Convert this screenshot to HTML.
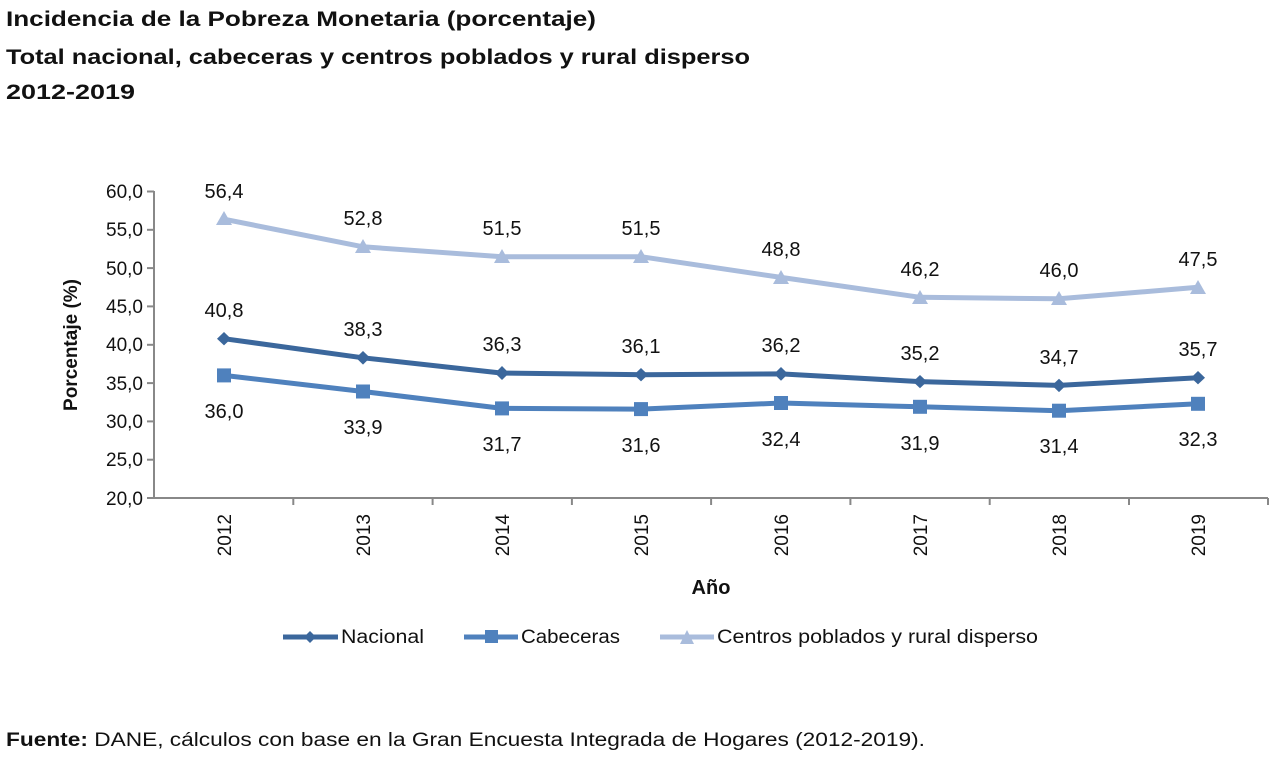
<!DOCTYPE html>
<html><head><meta charset="utf-8"><style>
body{margin:0;background:#fff;width:1283px;height:761px;overflow:hidden;font-family:"Liberation Sans","DejaVu Sans",sans-serif}
</style></head><body>
<svg width="1283" height="761" xmlns="http://www.w3.org/2000/svg" font-family="Liberation Sans, DejaVu Sans, sans-serif">
<text x="6" y="26" font-size="21" font-weight="bold" fill="#111" textLength="590" lengthAdjust="spacingAndGlyphs">Incidencia de la Pobreza Monetaria (porcentaje)</text>
<text x="6" y="64" font-size="21" font-weight="bold" fill="#111" textLength="744" lengthAdjust="spacingAndGlyphs">Total nacional, cabeceras y centros poblados y rural disperso</text>
<text x="6" y="99" font-size="21" font-weight="bold" fill="#111" textLength="129" lengthAdjust="spacingAndGlyphs">2012-2019</text>
<g stroke="#888" stroke-width="2">
<line x1="154" y1="191" x2="154" y2="499"/>
<line x1="153" y1="498" x2="1268" y2="498"/>
<line x1="147" y1="191.5" x2="154" y2="191.5"/><line x1="147" y1="229.8" x2="154" y2="229.8"/>
<line x1="147" y1="268.1" x2="154" y2="268.1"/><line x1="147" y1="306.4" x2="154" y2="306.4"/>
<line x1="147" y1="344.8" x2="154" y2="344.8"/><line x1="147" y1="383.1" x2="154" y2="383.1"/>
<line x1="147" y1="421.4" x2="154" y2="421.4"/><line x1="147" y1="459.7" x2="154" y2="459.7"/>
<line x1="147" y1="498" x2="154" y2="498"/>
<line x1="293.3" y1="498" x2="293.3" y2="505"/><line x1="432.6" y1="498" x2="432.6" y2="505"/>
<line x1="571.9" y1="498" x2="571.9" y2="505"/><line x1="711.1" y1="498" x2="711.1" y2="505"/>
<line x1="850.4" y1="498" x2="850.4" y2="505"/><line x1="989.7" y1="498" x2="989.7" y2="505"/>
<line x1="1129" y1="498" x2="1129" y2="505"/><line x1="1268" y1="498" x2="1268" y2="505"/>
</g>
<g font-size="19" fill="#111" text-anchor="end">
<text x="143" y="198">60,0</text><text x="143" y="236">55,0</text><text x="143" y="275">50,0</text>
<text x="143" y="313">45,0</text><text x="143" y="351">40,0</text><text x="143" y="390">35,0</text>
<text x="143" y="428">30,0</text><text x="143" y="466">25,0</text><text x="143" y="505">20,0</text>
</g>
<g font-size="19" fill="#111" text-anchor="end">
<text transform="translate(231,514) rotate(-90)">2012</text>
<text transform="translate(370,514) rotate(-90)">2013</text>
<text transform="translate(509,514) rotate(-90)">2014</text>
<text transform="translate(648,514) rotate(-90)">2015</text>
<text transform="translate(788,514) rotate(-90)">2016</text>
<text transform="translate(927,514) rotate(-90)">2017</text>
<text transform="translate(1066,514) rotate(-90)">2018</text>
<text transform="translate(1205,514) rotate(-90)">2019</text>
</g>
<text transform="translate(77,345) rotate(-90)" font-size="19" font-weight="bold" text-anchor="middle" fill="#111">Porcentaje (%)</text>
<text x="711" y="594" font-size="20" font-weight="bold" text-anchor="middle" fill="#111">Año</text>
<polyline fill="none" stroke="#a9bcdc" stroke-width="5" stroke-linejoin="round" points="224,219.2 363,246.8 502,256.7 641,256.7 781,277.4 920,297.3 1059,298.8 1198,287.3"/>
<g fill="#a9bcdc">
<polygon points="224,211 216,225 232,225"/><polygon points="363,239 355,253 371,253"/><polygon points="502,249 494,263 510,263"/><polygon points="641,249 633,263 649,263"/><polygon points="781,270 773,284 789,284"/><polygon points="920,290 912,304 928,304"/><polygon points="1059,291 1051,305 1067,305"/><polygon points="1198,280 1190,294 1206,294"/>
</g>
<polyline fill="none" stroke="#3b679c" stroke-width="5" stroke-linejoin="round" points="224,338.7 363,357.8 502,373.1 641,374.7 781,373.9 920,381.6 1059,385.4 1198,377.7"/>
<g fill="#3b679c">
<polygon points="224,332 231,338.7 224,345.4 217,338.7"/><polygon points="363,351 370,357.8 363,364.6 356,357.8"/><polygon points="502,366 509,373.1 502,380 495,373.1"/><polygon points="641,368 648,374.7 641,381.4 634,374.7"/><polygon points="781,367 788,373.9 781,380.8 774,373.9"/><polygon points="920,375 927,381.6 920,388.3 913,381.6"/><polygon points="1059,378.7 1066,385.4 1059,392.1 1052,385.4"/><polygon points="1198,371 1205,377.7 1198,384.4 1191,377.7"/>
</g>
<polyline fill="none" stroke="#4f81bd" stroke-width="5" stroke-linejoin="round" points="224,375.4 363,391.5 502,408.4 641,409.1 781,403 920,406.8 1059,410.7 1198,403.8"/>
<g fill="#4f81bd">
<rect x="217" y="368.4" width="14" height="14"/><rect x="356" y="384.5" width="14" height="14"/><rect x="495" y="401.4" width="14" height="14"/><rect x="634" y="402.1" width="14" height="14"/><rect x="774" y="396" width="14" height="14"/><rect x="913" y="399.8" width="14" height="14"/><rect x="1052" y="403.7" width="14" height="14"/><rect x="1191" y="396.8" width="14" height="14"/>
</g>
<g font-size="20" fill="#111" text-anchor="middle">
<text x="224" y="198">56,4</text><text x="363" y="225">52,8</text><text x="502" y="235">51,5</text><text x="641" y="235">51,5</text><text x="781" y="256">48,8</text><text x="920" y="276">46,2</text><text x="1059" y="277">46,0</text><text x="1198" y="266">47,5</text>
<text x="224" y="317">40,8</text><text x="363" y="336">38,3</text><text x="502" y="351">36,3</text><text x="641" y="353">36,1</text><text x="781" y="352">36,2</text><text x="920" y="360">35,2</text><text x="1059" y="364">34,7</text><text x="1198" y="356">35,7</text>
<text x="224" y="418">36,0</text><text x="363" y="434">33,9</text><text x="502" y="451">31,7</text><text x="641" y="452">31,6</text><text x="781" y="446">32,4</text><text x="920" y="450">31,9</text><text x="1059" y="453">31,4</text><text x="1198" y="446">32,3</text>
</g>
<line x1="283" y1="637" x2="338" y2="637" stroke="#3b679c" stroke-width="5"/>
<polygon points="310,631 316,637 310,643 304,637" fill="#3b679c"/>
<text x="341" y="643" font-size="19" fill="#111" textLength="83" lengthAdjust="spacingAndGlyphs">Nacional</text>
<line x1="464" y1="637" x2="518" y2="637" stroke="#4f81bd" stroke-width="5"/>
<rect x="485" y="630" width="13" height="13" fill="#4f81bd"/>
<text x="521" y="643" font-size="19" fill="#111" textLength="99" lengthAdjust="spacingAndGlyphs">Cabeceras</text>
<line x1="660" y1="637" x2="714" y2="637" stroke="#a9bcdc" stroke-width="5"/>
<polygon points="687,630 680,644 694,644" fill="#a9bcdc"/>
<text x="717" y="643" font-size="19" fill="#111" textLength="321" lengthAdjust="spacingAndGlyphs">Centros poblados y rural disperso</text>
<text x="6" y="746" font-size="19" fill="#111" textLength="919" lengthAdjust="spacingAndGlyphs"><tspan font-weight="bold">Fuente:</tspan> DANE, cálculos con base en la Gran Encuesta Integrada de Hogares (2012-2019).</text>
</svg>
</body></html>
